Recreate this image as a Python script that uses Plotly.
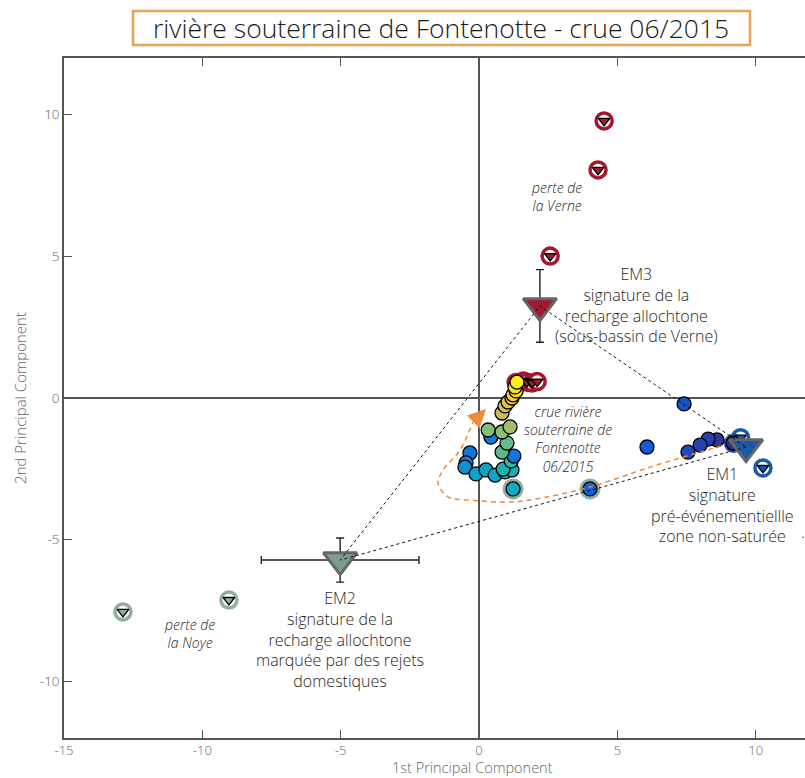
import plotly.graph_objects as go

# ---------------------------------------------------------------------------
# PCA scores - rivière souterraine de Fontenotte, crue 06/2015
# ---------------------------------------------------------------------------

# flood samples (1st / 2nd principal component) and their position in time (0 = start, 1 = end)
sample_pc1 = [9.18, 8.60, 8.28, 7.99, 7.55, 7.41, 6.07, 4.01, -0.33, -0.47, -0.51, -0.11,
              0.25, 0.58, 0.94, 1.23, 1.19, 0.87, 1.16, 1.26, 0.83, 1.01, 0.43, 0.33,
              0.83, 1.12, 0.83, 0.94, 1.05, 1.19, 1.23, 1.34, 1.30, 1.37]
sample_pc2 = [-1.59, -1.48, -1.45, -1.66, -1.91, -0.21, -1.73, -3.21, -1.94, -2.29, -2.44, -2.68,
              -2.54, -2.72, -2.61, -3.21, -2.54, -2.51, -2.22, -2.05, -1.91, -1.59, -1.38, -1.13,
              -1.20, -1.02, -0.53, -0.28, -0.14, 0.00, 0.11, 0.25, 0.39, 0.56]
sample_time = [0.00, 0.03, 0.05, 0.06, 0.08, 0.10, 0.12, 0.14, 0.20, 0.26, 0.29, 0.36,
               0.37, 0.38, 0.40, 0.40, 0.42, 0.44, 0.50, 0.20, 0.55, 0.56, 0.22, 0.60,
               0.62, 0.65, 0.72, 0.76, 0.80, 0.85, 0.88, 0.91, 0.95, 1.00]

# samples highlighted with a ring
ringed_pc1 = [1.23, 4.01]
ringed_pc2 = [-3.21, -3.21]

# source waters
verne_pc1 = [4.52, 4.30, 2.57, 1.34, 1.60, 1.73, 1.92, 2.10]
verne_pc2 = [9.78, 8.05, 5.01, 0.55, 0.60, 0.56, 0.53, 0.58]
noye_pc1 = [-12.87, -9.04]
noye_pc2 = [-7.55, -7.13]
unsat_pc1 = [9.45, 9.20, 10.26]
unsat_pc2 = [-1.40, -1.60, -2.47]

# end members: EM1, EM2, EM3
em_pc1 = [9.65, -5.02, 2.20]
em_pc2 = [-1.73, -5.72, 3.25]
em_err_pc1 = [0.0, 2.85, 0.0]
em_err_pc2 = [0.0, 0.78, 1.28]
em_colors = ["#1C58A8", "#7A9E8C", "#A3182E"]

# flood trajectory (guide for the eye), last point = arrow tip
path_pc1 = [8.78, 7.99, 6.18, 4.01, 1.84, 0.87, -0.33, -1.12, -1.48, -1.30, -0.69, -0.22, 0.25]
path_pc2 = [-1.69, -1.91, -2.44, -3.14, -3.60, -3.67, -3.60, -3.49, -3.00, -2.54, -1.84, -0.85, -0.39]

# axes
x_ticks = [-15, -10, -5, 0, 5, 10]
x_ticktext = ["-15", "-10", "-5", "0", "5", "10"]
y_ticks = [-10, -5, 0, 5, 10]
y_ticktext = ["-10", "-5", "0", "5", "10"]

FONT = "Open Sans"
TXT = "#262626"
AXC = "#555555"
ORANGE = "#EE8A3A"
W = 300

parula = [
    [0.000, "#352A87"], [0.125, "#0F5CDD"], [0.250, "#1485D4"], [0.375, "#06A7C6"],
    [0.500, "#38B99E"], [0.625, "#92BF73"], [0.750, "#D9BA56"], [0.875, "#FCCE2E"],
    [1.000, "#F9F01A"],
]

fig = go.Figure()

# highlight rings behind two samples
fig.add_trace(go.Scatter(
    x=ringed_pc1, y=ringed_pc2, mode="markers",
    marker=dict(symbol="circle", size=21, color="#8FAE9E", line=dict(width=0)),
    hoverinfo="skip"))


def source_markers(px, py, ring, fill):
    fig.add_trace(go.Scatter(
        x=px, y=py, mode="markers",
        marker=dict(symbol="circle", size=16, color="white", line=dict(color=ring, width=3.5)),
        hoverinfo="skip"))
    fig.add_trace(go.Scatter(
        x=px, y=py, mode="markers",
        marker=dict(symbol="triangle-down", size=10, color=fill, line=dict(color="black", width=1.3)),
        hoverinfo="skip"))


source_markers(verne_pc1, verne_pc2, "#A3182E", "#A3182E")
source_markers(noye_pc1, noye_pc2, "#8FAE9E", "#8FAE9E")
source_markers(unsat_pc1, unsat_pc2, "#1C58A8", "#1C58A8")

# flood samples coloured by time
fig.add_trace(go.Scatter(
    x=sample_pc1, y=sample_pc2, mode="markers",
    marker=dict(symbol="circle", size=14, color=sample_time, colorscale=parula,
                cmin=0, cmax=1, line=dict(color="black", width=1.3)),
    hoverinfo="skip"))

# end members with uncertainties
fig.add_trace(go.Scatter(
    x=em_pc1, y=em_pc2, mode="markers",
    marker=dict(symbol="triangle-down", size=29, color=em_colors, line=dict(color="#666666", width=3)),
    error_x=dict(type="data", array=em_err_pc1, color="#222222", thickness=1.4, width=4),
    error_y=dict(type="data", array=em_err_pc2, color="#222222", thickness=1.4, width=4),
    hoverinfo="skip"))

# mixing triangle between end members
tri_x = [em_pc1[0], em_pc1[1], em_pc1[2], em_pc1[0]]
tri_y = [em_pc2[0], em_pc2[1], em_pc2[2], em_pc2[0]]
fig.add_trace(go.Scatter(
    x=tri_x, y=tri_y, mode="lines",
    line=dict(color="#111111", width=1, dash="3px,3px"), hoverinfo="skip"))

# flood trajectory
fig.add_trace(go.Scatter(
    x=path_pc1[:-1], y=path_pc2[:-1], mode="lines",
    line=dict(color=ORANGE, width=1.5, dash="5px,4px", shape="spline", smoothing=1.0),
    hoverinfo="skip"))
fig.add_annotation(
    x=path_pc1[-1], y=path_pc2[-1], ax=path_pc1[-2], ay=path_pc2[-2],
    xref="x", yref="y", axref="x", ayref="y", text="", showarrow=True,
    arrowhead=2, arrowsize=2.4, arrowwidth=1.5, arrowcolor=ORANGE, standoff=0)

# labels
fs = 16
lab = dict(family=FONT, size=fs, color=TXT, weight=W)
fig.add_annotation(x=em_pc1[2] + 3.48, y=em_pc2[2] + 1.59, xref="x", yref="y",
                   text="EM3<br>signature de la<br>recharge allochtone<br>(sous-bassin de Verne)",
                   showarrow=False, align="center", yanchor="top", font=lab)
fig.add_annotation(x=em_pc1[1] + 0.0, y=em_pc2[1] - 0.88, xref="x", yref="y",
                   text="EM2<br>signature de la<br>recharge allochtone<br>marquée par des rejets<br>domestiques",
                   showarrow=False, align="center", yanchor="top", font=lab)
fig.add_annotation(x=em_pc1[0] - 0.85, y=em_pc2[0] - 0.48, xref="x", yref="y",
                   text="EM1<br>signature<br>pré-événementiellle<br>zone non-saturée",
                   showarrow=False, align="center", yanchor="top", font=lab)
fig.add_annotation(x=11.7, y=-4.72, xref="x", yref="y", text=".", showarrow=False, font=lab)

fs2 = 14
ital = dict(family=FONT, size=fs2, color=TXT, style="italic", weight=W)
fig.add_annotation(x=2.8, y=7.11, xref="x", yref="y", text="perte de<br>la Verne",
                   showarrow=False, align="center", font=ital)
fig.add_annotation(x=-10.48, y=-8.3, xref="x", yref="y", text="perte de<br>la Noye",
                   showarrow=False, align="center", font=ital)
fig.add_annotation(x=3.22, y=-1.45, xref="x", yref="y",
                   text="crue rivière<br>souterraine de<br>Fontenotte<br>06/2015",
                   showarrow=False, align="center", font=ital)

# framed title
fig.add_shape(type="rect", xref="paper", yref="paper",
              x0=(133 - 64) / 741, x1=(750 - 64) / 741, y0=1 + 13 / 680, y1=1 + 47 / 680,
              line=dict(color="#E8A455", width=2.5), fillcolor="white")
fig.add_annotation(x=(441 - 64) / 741, y=1 + 30 / 680, xref="paper", yref="paper",
                   xanchor="center", yanchor="middle",
                   text="rivière souterraine de Fontenotte - crue 06/2015", showarrow=False,
                   font=dict(family=FONT, size=26.5, color="#1a1a1a", weight=W))

# x-axis title, set just under the tick labels
fig.add_annotation(x=(472 - 64) / 741, y=-(767 - 738) / 680, xref="paper", yref="paper",
                   xanchor="center", yanchor="middle", showarrow=False,
                   text="1st Principal Component",
                   font=dict(family=FONT, size=14.5, color="#666666", weight=W))

fig.update_layout(
    width=805, height=778,
    margin=dict(l=64, r=0, t=58, b=40),
    plot_bgcolor="white", paper_bgcolor="white",
    showlegend=False,
    font=dict(family=FONT),
    xaxis=dict(range=[-15, 11.78], tickvals=x_ticks, ticktext=x_ticktext,
               showgrid=False, zeroline=True, zerolinecolor=AXC, zerolinewidth=1.5,
               showline=True, linecolor=AXC, linewidth=1.5, mirror="ticks",
               ticks="inside", ticklen=8, tickcolor=AXC, tickwidth=1.2,
               tickfont=dict(size=13, color="#666666", weight=W)),
    yaxis=dict(range=[-12, 12], tickvals=y_ticks, ticktext=y_ticktext,
               showgrid=False, zeroline=True, zerolinecolor=AXC, zerolinewidth=1.5,
               showline=True, linecolor=AXC, linewidth=1.5, mirror=False,
               ticks="inside", ticklen=8, tickcolor=AXC, tickwidth=1.2,
               tickfont=dict(size=13.5, color="#666666", weight=W),
               title=dict(text="2nd Principal Component",
                          font=dict(size=15, color="#666666", weight=W), standoff=10)),
)

fig.write_html("out.html")
